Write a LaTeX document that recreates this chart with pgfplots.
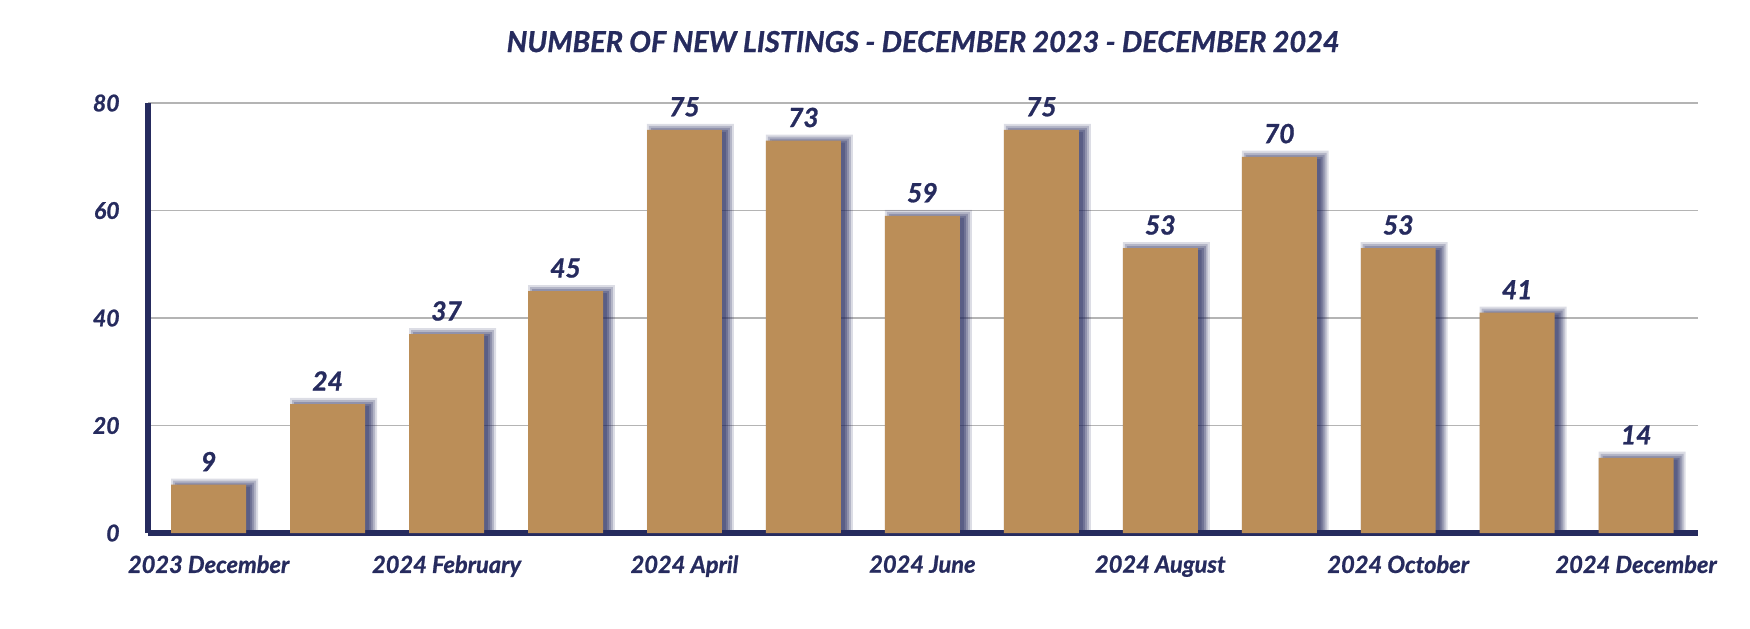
\documentclass[border=0pt]{standalone}
\usepackage{fontspec}
\setmainfont{Lato}[BoldItalicFeatures={FakeBold=1}]
\usepackage{pgfplots}
\usepackage{pgfplotstable}
\pgfplotsset{compat=1.18}
\definecolor{navy}{HTML}{262B5E}
\definecolor{gold}{HTML}{BB8E58}
\definecolor{gridgray}{HTML}{B4B4B4}
\definecolor{shadow}{HTML}{262B5E}
\pgfplotsset{layers/barsbelow/.define layer set={axis background,axis grid,main,axis ticks,axis lines,axis tick labels,axis descriptions,axis foreground}{}}
\pgfplotstableread{
x v
0 9
1 24
2 37
3 45
4 75
5 73
6 59
7 75
8 53
9 70
10 53
11 41
12 14
}\datatable
\begin{document}
\begin{tikzpicture}
\begin{axis}[
  name=ax,
  set layers=barsbelow,
  scale only axis,
  width=775pt, height=215pt,
  xmin=-0.51, xmax=12.52,
  ymin=0, ymax=80,
  axis x line*=bottom, axis y line*=left,
  axis line style={navy, line width=2.8pt, -},
  ytick={0,20,40,60,80},
  xtick={0,2,4,6,8,10,12},
  xticklabels={2023 December,2024 February,2024 April,2024 June,2024 August,2024 October,2024 December},
  major tick length=0pt,
  ymajorgrids, grid style={gridgray, line width=0.6pt},
  /pgf/number format/assume math mode=true,
  yticklabel style={font=\fontsize{11.5}{13}\selectfont\bfseries\itshape, text=navy, anchor=east, inner sep=0pt, xshift=-14pt},
  xticklabel style={font=\fontsize{11.8}{13}\selectfont\bfseries\itshape, text=navy, anchor=north, inner sep=0pt, yshift=-11pt},
  title={NUMBER OF NEW LISTINGS - DECEMBER 2023 - DECEMBER 2024},
  title style={font=\fontsize{14.4}{16}\selectfont\bfseries\itshape, text=navy, at={(0.5,1)}, anchor=base, inner sep=0pt, yshift=19.5pt},
  clip=false,
]
\addplot[ybar, bar width=0.731, bar shift=0.05, fill=shadow, fill opacity=0.16, draw=none] table[x=x, y expr=\thisrow{v}+1.12] {\datatable};
\addplot[ybar, bar width=0.697, bar shift=0.05, fill=shadow, fill opacity=0.22, draw=none] table[x=x, y expr=\thisrow{v}+0.74] {\datatable};
\addplot[ybar, bar width=0.664, bar shift=0.05, fill=shadow, fill opacity=0.26, draw=none] table[x=x, y expr=\thisrow{v}+0.37] {\datatable};
\addplot[ybar, bar width=0.63, bar shift=0.05, fill=shadow, fill opacity=0.3, draw=none] table[x=x, y=v] {\datatable};
\addplot[ybar, bar width=0.596, bar shift=0.05, fill=shadow, fill opacity=0.3, draw=none] table[x=x, y expr=\thisrow{v}-0.37] {\datatable};
\addplot[ybar, bar width=0.63, bar shift=0, fill=gold, draw=none,
  nodes near coords,
  every node near coord/.append style={font=\fontsize{13.2}{15}\selectfont\bfseries\itshape, text=navy, anchor=south, inner sep=0pt, yshift=6.5pt}
] table[x=x, y=v] {\datatable};
\end{axis}
\pgfresetboundingbox
\path ([shift={(-74pt,-47.5pt)}]ax.south west) rectangle ++(875pt,314pt);
\end{tikzpicture}
\end{document}
